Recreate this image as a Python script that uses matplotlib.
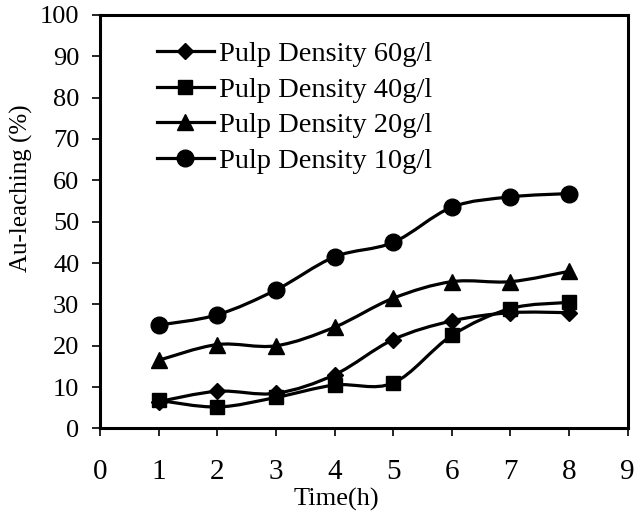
import numpy as np
import matplotlib
matplotlib.use('Agg')
import matplotlib.pyplot as plt
from matplotlib.path import Path
from matplotlib.patches import PathPatch
from matplotlib.lines import Line2D

plt.rcParams['font.family'] = ['Liberation Serif', 'DejaVu Serif']

# dati
time_h = [1, 2, 3, 4, 5, 6, 7, 8]
pd60 = [6.5, 9.0, 8.5, 13.0, 21.5, 26.0, 28.0, 28.0]
pd40 = [6.8, 5.2, 7.5, 10.5, 11.0, 22.5, 29.0, 30.5]
pd20 = [16.5, 20.3, 20.0, 24.5, 31.5, 35.5, 35.5, 38.0]
pd10 = [25.0, 27.5, 33.5, 41.5, 45.0, 53.5, 56.0, 56.8]

labels = ['Pulp Density 60g/l', 'Pulp Density 40g/l',
          'Pulp Density 20g/l', 'Pulp Density 10g/l']
series = [pd60, pd40, pd20, pd10]
markers = ['D', 's', '^', 'o']
msizes = [8, 10.5, 11, 12]


def smooth_path(x, y):
    # curva tipo Excel "smoothed line" con segmenti di Bezier
    x = np.asarray(x, float)
    y = np.asarray(y, float)
    n = len(x)
    verts = [(x[0], y[0])]
    codes = [Path.MOVETO]
    for i in range(n - 1):
        i0 = max(i - 1, 0)
        i3 = min(i + 2, n - 1)
        c1 = (x[i] + (x[i + 1] - x[i0]) / 6, y[i] + (y[i + 1] - y[i0]) / 6)
        c2 = (x[i + 1] - (x[i3] - x[i]) / 6, y[i + 1] - (y[i3] - y[i]) / 6)
        verts += [c1, c2, (x[i + 1], y[i + 1])]
        codes += [Path.CURVE4] * 3
    return Path(verts, codes)


fig = plt.figure(figsize=(6.34, 5.15), dpi=100)
ax = fig.add_axes([0.158, 0.168, 0.832, 0.803])

handles = []
for vals, m, ms, lab in zip(series, markers, msizes, labels):
    ax.add_patch(PathPatch(smooth_path(time_h, vals), facecolor='none',
                           edgecolor='black', lw=2.3, zorder=2))
    ax.plot(time_h, vals, linestyle='none', marker=m, markersize=ms,
            color='black', zorder=3)
    handles.append(Line2D([], [], color='black', lw=2.3, marker=m,
                          markersize=ms, label=lab))

ax.set_xlim(0, 9)
ax.set_ylim(0, 100)
ax.set_xticks(range(0, 10))
ax.set_yticks(range(0, 101, 10))
ax.tick_params(direction='out', length=6, width=1.2)
ax.tick_params(axis='x', labelsize=21, pad=16)
ax.tick_params(axis='y', labelsize=19, pad=9)
for sp in ax.spines.values():
    sp.set_linewidth(2.2)

ax.set_xlabel('Time(h)', fontsize=19)
ax.xaxis.set_label_coords(0.447, -0.143)
ax.set_ylabel('Au-leaching (%)', fontsize=18)
ax.yaxis.set_label_coords(-0.127, 0.58)

ax.legend(handles=handles, loc='upper left', frameon=False, fontsize=20.5,
          handlelength=2.0, handletextpad=0.2, labelspacing=0.34,
          borderaxespad=0.2, bbox_to_anchor=(0.075, 0.978))

fig.savefig('out.png', dpi=100)
